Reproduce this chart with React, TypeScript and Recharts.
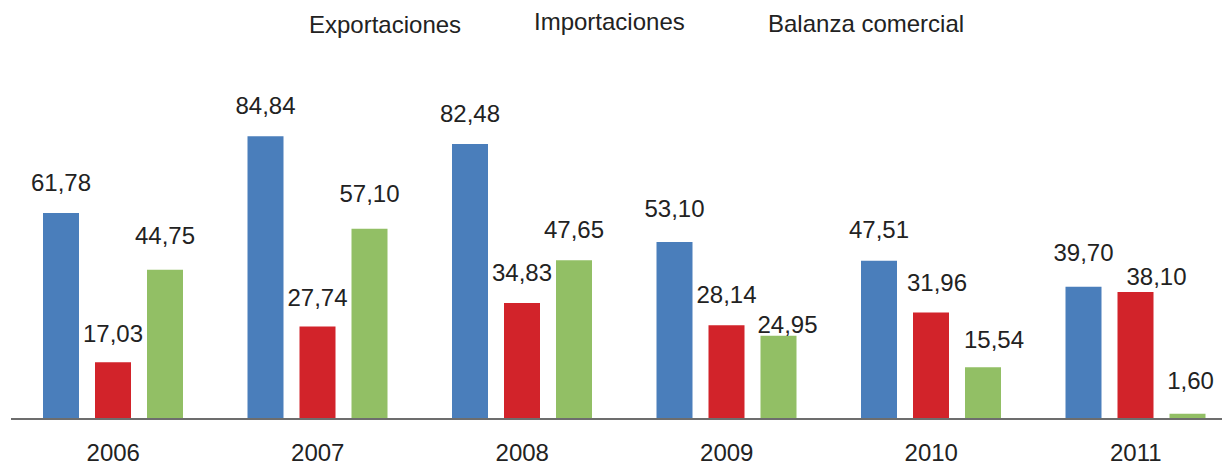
import { BarChart, Bar, XAxis, YAxis, LabelList } from "recharts";

const years = ["2006", "2007", "2008", "2009", "2010", "2011"];
const exportaciones = [61.78, 84.84, 82.48, 53.1, 47.51, 39.7];
const importaciones = [17.03, 27.74, 34.83, 28.14, 31.96, 38.1];
const balanza = [44.75, 57.1, 47.65, 24.95, 15.54, 1.6];

const series = [
  { key: "exp", name: "Exportaciones", color: "#4a7ebb" },
  { key: "imp", name: "Importaciones", color: "#d2232a" },
  { key: "bal", name: "Balanza comercial", color: "#92bf65" },
];

const data = years.map((year, i) => ({
  year,
  exp: exportaciones[i],
  imp: importaciones[i],
  bal: balanza[i],
}));

// hand-placed labels in the original (gap = bar top to text middle)
const labelNudge: Record<string, { dx?: number; gap?: number }> = {
  "exp-3": { gap: 34 },
  "exp-5": { gap: 34 },
  "imp-0": { gap: 29 },
  "imp-1": { gap: 29 },
  "imp-4": { dx: 6, gap: 30 },
  "imp-5": { dx: 21, gap: 16 },
  "bal-0": { gap: 34 },
  "bal-1": { gap: 35 },
  "bal-3": { dx: 9, gap: 11 },
  "bal-4": { dx: 11, gap: 28 },
  "bal-5": { dx: 3, gap: 33 },
};

const fmt = (v: any) => Number(v).toFixed(2).replace(".", ",");

const font = '"Liberation Sans", Arial, sans-serif';

const makeLabel = (key: string) => (props: any) => {
  const { x, y, width, value, index } = props;
  const n = labelNudge[`${key}-${index}`] || {};
  const gap = n.gap ?? 31;
  const dx = n.dx ?? 0;
  return (
    <text
      x={Number(x) + Number(width) / 2 + dx}
      y={Number(y) - gap + 8.6}
      textAnchor="middle"
      fontSize={24}
      fill="#222"
      fontFamily={font}
    >
      {fmt(value)}
    </text>
  );
};

export default function App() {
  return (
    <div
      style={{
        position: "absolute",
        left: 0,
        top: 0,
        width: 1222,
        height: 466,
        overflow: "hidden",
        background: "#fff",
        fontFamily: font,
      }}
    >
      {/* legend: text only, no swatches */}
      <div style={{ position: "absolute", top: 0, left: 309, fontSize: 24, color: "#222" }}>
        <span style={{ position: "absolute", left: 0, top: 11, whiteSpace: "nowrap" }}>{series[0].name}</span>
        <span style={{ position: "absolute", left: 225, top: 8, whiteSpace: "nowrap" }}>{series[1].name}</span>
        <span style={{ position: "absolute", left: 459, top: 10, whiteSpace: "nowrap" }}>{series[2].name}</span>
      </div>
      <BarChart
        width={1240}
        height={466}
        data={data}
        margin={{ top: 119, right: 2, left: 11, bottom: 17 }}
        barCategoryGap={32}
        barGap={16}
        style={{ position: "absolute", left: 0, top: 0 }}
      >
        <XAxis
          dataKey="year"
          height={30}
          tickLine={false}
          axisLine={{ stroke: "#6d6d6d", strokeWidth: 2 }}
          tick={{ fontSize: 24, fill: "#222", fontFamily: font }}
          tickMargin={19}
        />
        <YAxis hide domain={[0, 90]} />
        {series.map((s) => (
          <Bar key={s.key} dataKey={s.key} name={s.name} fill={s.color} barSize={36} isAnimationActive={false}>
            <LabelList dataKey={s.key} content={makeLabel(s.key)} />
          </Bar>
        ))}
      </BarChart>
    </div>
  );
}
